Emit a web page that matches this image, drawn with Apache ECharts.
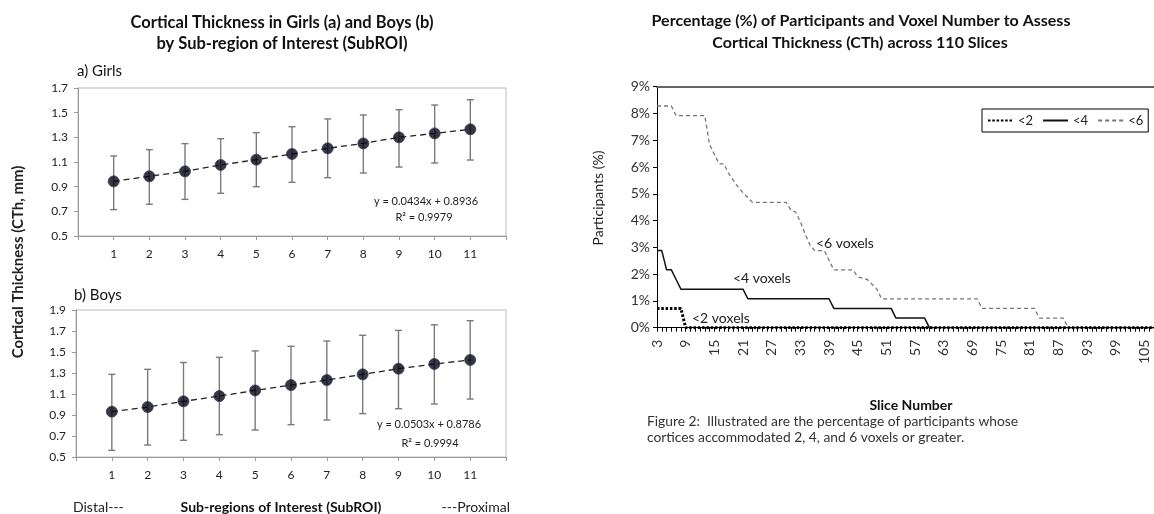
<!DOCTYPE html>
<html>
<head>
<meta charset="utf-8">
<script src="https://cdn.jsdelivr.net/npm/echarts@6/dist/echarts.min.js"></script>
<style>
html,body{margin:0;padding:0;background:#fff;}
#c{width:1154px;height:514px;}
</style>
</head>
<body>
<div id="c"></div>
<script>
// ---------- Left panel data (SubROI 1..11) ----------
const subroi = [1,2,3,4,5,6,7,8,9,10,11];
const girlsMean  = [0.943,0.984,1.024,1.076,1.119,1.165,1.211,1.251,1.300,1.332,1.365];
const girlsUpper = [1.149,1.200,1.249,1.289,1.338,1.386,1.449,1.481,1.524,1.562,1.605];
const girlsLower = [0.714,0.757,0.797,0.846,0.900,0.935,0.973,1.011,1.059,1.092,1.116];
const boysMean   = [0.932,0.976,1.030,1.080,1.134,1.185,1.233,1.287,1.341,1.386,1.424];
const boysUpper  = [1.287,1.335,1.400,1.449,1.510,1.554,1.605,1.659,1.706,1.759,1.798];
const boysLower  = [0.563,0.614,0.659,0.713,0.757,0.808,0.852,0.913,0.960,1.005,1.052];
const girlsEq = ['y = 0.0434x + 0.8936', 'R\u00B2 = 0.9979'];
const boysEq  = ['y = 0.0503x + 0.8786', 'R\u00B2 = 0.9994'];

// ---------- Right panel data (slices 3..107 visible) ----------
const slices = [3,4,5,6,7,8,9,10,11,12,13,14,15,16,17,18,19,20,21,22,23,24,25,26,27,28,29,30,31,32,33,34,35,36,37,38,39,40,41,42,43,44,45,46,47,48,49,50,51,52,53,54,55,56,57,58,59,60,61,62,63,64,65,66,67,68,69,70,71,72,73,74,75,76,77,78,79,80,81,82,83,84,85,86,87,88,89,90,91,92,93,94,95,96,97,98,99,100,101,102,103,104,105,106,107];
const lt2 = [0.72,0.72,0.72,0.72,0.72,0.72,
  0,0,0,0,0,0,0,0,0,0,
  0,0,0,0,0,0,0,0,0,0,
  0,0,0,0,0,0,0,0,0,0,
  0,0,0,0,0,0,0,0,0,0,
  0,0,0,0,0,0,0,0,0,0,
  0,0,0,0,0,0,0,0,0,0,
  0,0,0,0,0,0,0,0,0,0,
  0,0,0,0,0,0,0,0,0,0,
  0,0,0,0,0,0,0,0,0,0,
  0,0,0,0,0,0,0,0,0];
const lt4 = [2.88,2.88,2.16,2.16,1.80,
  1.44,1.44,1.44,1.44,1.44,1.44,1.44,1.44,1.44,1.44,1.44,1.44,1.44,1.44,
  1.08,1.08,1.08,1.08,1.08,1.08,1.08,1.08,1.08,1.08,1.08,1.08,1.08,1.08,1.08,1.08,1.08,1.08,
  0.72,0.72,0.72,0.72,0.72,0.72,0.72,0.72,0.72,0.72,0.72,0.72,0.72,
  0.36,0.36,0.36,0.36,0.36,0.36,0.36,
  0,0,0,0,0,0,0,0,0,0,
  0,0,0,0,0,0,0,0,0,0,
  0,0,0,0,0,0,0,0,0,0,
  0,0,0,0,0,0,0,0,0,0,
  0,0,0,0,0,0,0,0];
const lt6 = [8.28,8.28,8.28,8.28,
  7.92,7.92,7.92,7.92,7.92,7.92,7.92,
  6.84,6.48,6.12,6.12,5.76,5.50,5.25,5.04,4.86,
  4.68,4.68,4.68,4.68,4.68,4.68,4.68,4.68,
  4.40,4.32,3.96,3.50,3.10,
  2.88,2.88,2.88,
  2.52,
  2.16,2.16,2.16,2.16,2.16,
  1.90,1.85,1.80,1.62,1.44,
  1.08,1.08,1.08,1.08,1.08,1.08,1.08,1.08,1.08,1.08,1.08,1.08,1.08,1.08,1.08,1.08,1.08,1.08,1.08,1.08,1.08,
  0.72,0.72,0.72,0.72,0.72,0.72,0.72,0.72,0.72,0.72,0.72,0.72,
  0.36,0.36,0.36,0.36,0.36,0.36,
  0,0,0,0,0,0,0,0,0,0,
  0,0,0,0,0,0,0,0,0];
const seriesNames = ['<2','<4','<6'];

const FONT = 'Lato, "Open Sans", "DejaVu Sans", sans-serif';

function pairs(xs, ys){ return xs.map((x,i)=>[x, ys[i]]); }
function errData(xs, lo, hi){ return xs.map((x,i)=>[x, lo[i], hi[i]]); }

function errRender(params, api){
  const x = api.value(0);
  const a = api.coord([x, api.value(1)]);
  const b = api.coord([x, api.value(2)]);
  const w = 3.5;
  const st = {stroke:'#7a7a7a', lineWidth:1.4};
  return {type:'group', children:[
    {type:'line', shape:{x1:a[0],y1:a[1],x2:b[0],y2:b[1]}, style:st},
    {type:'line', shape:{x1:a[0]-w,y1:a[1],x2:a[0]+w,y2:a[1]}, style:st},
    {type:'line', shape:{x1:b[0]-w,y1:b[1],x2:b[0]+w,y2:b[1]}, style:st}
  ]};
}

function leftX(gi){
  return {gridIndex:gi, type:'value', min:0, max:12, interval:1,
    axisLine:{show:true, lineStyle:{color:'#999', width:1}},
    axisTick:{show:true, length:4, lineStyle:{color:'#999'}},
    axisLabel:{margin:12, fontSize:12, color:'#222', fontFamily:FONT,
      formatter:v => (v>=1 && v<=11) ? String(v) : ''},
    splitLine:{show:false}};
}
function leftY(gi, max){
  return {gridIndex:gi, type:'value', min:0.5, max:max, interval:0.2,
    axisLine:{show:true, lineStyle:{color:'#999', width:1}},
    axisTick:{show:true, length:4, lineStyle:{color:'#999'}},
    axisLabel:{margin:10, fontSize:12, color:'#222', fontFamily:FONT, formatter:v => v.toFixed(1)},
    splitLine:{show:false}};
}

function txt(text, x, y, opt){
  opt = opt || {};
  return {type:'text', x:x, y:y, rotation:opt.rot||0, silent:true,
    style:{text:text, fill:opt.color||'#222',
      font:(opt.weight||'normal')+' '+(opt.size||12)+'px '+FONT,
      textAlign:opt.align||'center', textVerticalAlign:'middle'}};
}

const chart = echarts.init(document.getElementById('c'), null, {renderer:'canvas'});
const option = {
  animation:false,
  backgroundColor:'#fff',
  grid:[
    {left:78, top:88, width:428, height:148, show:true, borderColor:'#bbb', borderWidth:1},
    {left:76, top:310, width:430, height:147, show:true, borderColor:'#bbb', borderWidth:1},
    {left:657, top:86.7, width:497, height:241}
  ],
  xAxis:[
    leftX(0), leftX(1),
    {gridIndex:2, type:'category', data:slices, boundaryGap:false,
      axisLine:{show:true, lineStyle:{color:'#000', width:1}},
      axisTick:{show:true, interval:0, length:4, lineStyle:{color:'#000'}},
      axisLabel:{interval:5, rotate:90, margin:12, fontSize:14, color:'#333', fontFamily:FONT},
      splitLine:{show:false}},
    {gridIndex:2, type:'category', data:slices, boundaryGap:false, position:'top',
      axisLine:{show:true, lineStyle:{color:'#666', width:2}},
      axisTick:{show:false}, axisLabel:{show:false}, splitLine:{show:false}}
  ],
  yAxis:[
    leftY(0, 1.7), leftY(1, 1.9),
    {gridIndex:2, type:'value', min:0, max:9, interval:1,
      axisLine:{show:true, lineStyle:{color:'#000', width:1}},
      axisTick:{show:true, length:4, lineStyle:{color:'#000'}},
      axisLabel:{margin:7, fontSize:14, color:'#333', fontFamily:FONT, formatter:'{value}%'},
      splitLine:{show:false}}
  ],
  legend:{
    data:seriesNames, left:982, top:109, orient:'horizontal',
    borderColor:'#000', borderWidth:1, padding:[5,5], itemGap:9,
    itemWidth:25, itemHeight:8,
    itemStyle:{opacity:0},
    textStyle:{fontSize:13, color:'#222', fontFamily:FONT}
  },
  series:[
    {type:'custom', xAxisIndex:0, yAxisIndex:0, renderItem:errRender, data:errData(subroi, girlsLower, girlsUpper), z:2, silent:true},
    {type:'line', xAxisIndex:0, yAxisIndex:0, data:pairs(subroi, girlsMean), symbol:'none',
      lineStyle:{color:'#222', width:1.3, type:[6,4]}, z:3, silent:true},
    {type:'scatter', xAxisIndex:0, yAxisIndex:0, data:pairs(subroi, girlsMean), symbolSize:11,
      itemStyle:{color:'#05050f', borderColor:'#3a3a66', borderWidth:1}, z:4},
    {type:'custom', xAxisIndex:1, yAxisIndex:1, renderItem:errRender, data:errData(subroi, boysLower, boysUpper), z:2, silent:true},
    {type:'line', xAxisIndex:1, yAxisIndex:1, data:pairs(subroi, boysMean), symbol:'none',
      lineStyle:{color:'#222', width:1.3, type:[6,4]}, z:3, silent:true},
    {type:'scatter', xAxisIndex:1, yAxisIndex:1, data:pairs(subroi, boysMean), symbolSize:11,
      itemStyle:{color:'#05050f', borderColor:'#3a3a66', borderWidth:1}, z:4},
    {name:seriesNames[0], type:'line', xAxisIndex:2, yAxisIndex:2, data:lt2, symbol:'none',
      itemStyle:{color:'#000'}, lineStyle:{color:'#000', width:3, type:[2.5,1.8]}, z:5},
    {name:seriesNames[1], type:'line', xAxisIndex:2, yAxisIndex:2, data:lt4, symbol:'none',
      itemStyle:{color:'#111'}, lineStyle:{color:'#111', width:1.5, type:'solid'}, z:4},
    {name:seriesNames[2], type:'line', xAxisIndex:2, yAxisIndex:2, data:lt6, symbol:'none',
      itemStyle:{color:'#777'}, lineStyle:{color:'#777', width:1.3, type:[4,3]}, z:3}
  ],
  graphic:[
    txt('Cortical Thickness in Girls (a) and Boys (b)', 282, 23, {weight:'bold', size:16.5, color:'#111'}),
    txt('by Sub-region of Interest (SubROI)', 282, 44, {weight:'bold', size:16.5, color:'#111'}),
    txt('a) Girls', 77, 71, {align:'left', size:15, color:'#111'}),
    txt('b) Boys', 74, 295, {align:'left', size:15, color:'#111'}),
    txt('Cortical Thickness (CTh, mm)', 18, 262, {rot:Math.PI/2, weight:'bold', size:15, color:'#222'}),
    txt(girlsEq[0], 426, 201, {size:11, color:'#222'}),
    txt(girlsEq[1], 424, 217, {size:11, color:'#222'}),
    txt(boysEq[0], 429, 424, {size:11, color:'#222'}),
    txt(boysEq[1], 430, 443, {size:11, color:'#222'}),
    txt('Distal---', 73, 507, {align:'left', size:14, color:'#222'}),
    txt('Sub-regions of Interest (SubROI)', 281, 507, {weight:'bold', size:14, color:'#111'}),
    txt('---Proximal', 510, 507, {align:'right', size:14, color:'#222'}),
    txt('Percentage (%) of Participants and Voxel Number to Assess', 861, 21, {weight:'bold', size:16, color:'#111'}),
    txt('Cortical Thickness (CTh) across 110 Slices', 860, 43, {weight:'bold', size:16, color:'#111'}),
    txt('Participants (%)', 598, 198, {rot:Math.PI/2, size:14, color:'#222'}),
    txt('Slice Number', 911, 405, {weight:'bold', size:14, color:'#111'}),
    txt('<6 voxels', 816, 243, {align:'left', size:14, color:'#222'}),
    txt('<4 voxels', 733, 278, {align:'left', size:14, color:'#222'}),
    txt('<2 voxels', 692, 318, {align:'left', size:14, color:'#222'}),
    txt('Figure 2:  Illustrated are the percentage of participants whose', 647, 422, {align:'left', size:13.8, color:'#333'}),
    txt('cortices accommodated 2, 4, and 6 voxels or greater.', 647, 438, {align:'left', size:13.8, color:'#333'})
  ]
};
chart.setOption(option);
</script>
</body>
</html>
